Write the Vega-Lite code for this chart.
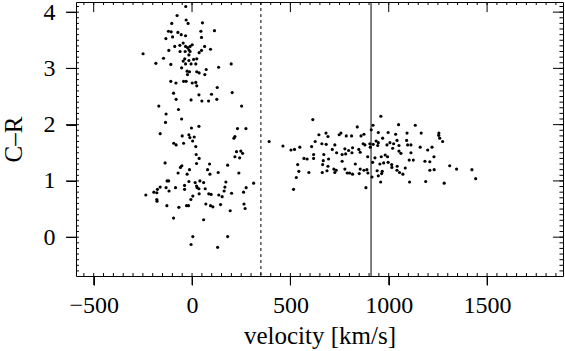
{
"$schema": "https://vega.github.io/schema/vega-lite/v6.json",
"width": 487, "height": 274,
"autosize": {"type": "none"},
"padding": {"left": 76, "top": 2, "right": 2, "bottom": 75},
"config": {
  "font": "Liberation Serif",
  "view": {"stroke": "black", "strokeWidth": 1},
  "axis": {"domain": false, "grid": false, "ticks": true, "labelColor": "black", "titleColor": "black", "labelFont": "Liberation Serif", "titleFont": "Liberation Serif", "labelFontSize": 24, "titleFontSize": 25, "titleFontWeight": "normal", "labelOverlap": false, "labelFlush": false}
},
"datasets": {
  "xmajor": [{"v":-500},{"v":0},{"v":500},{"v":1000},{"v":1500}],
  "xminor": [{"v":-550},{"v":-500},{"v":-450},{"v":-400},{"v":-350},{"v":-300},{"v":-250},{"v":-200},{"v":-150},{"v":-100},{"v":-50},{"v":0},{"v":50},{"v":100},{"v":150},{"v":200},{"v":250},{"v":300},{"v":350},{"v":400},{"v":450},{"v":500},{"v":550},{"v":600},{"v":650},{"v":700},{"v":750},{"v":800},{"v":850},{"v":900},{"v":950},{"v":1000},{"v":1050},{"v":1100},{"v":1150},{"v":1200},{"v":1250},{"v":1300},{"v":1350},{"v":1400},{"v":1450},{"v":1500},{"v":1550},{"v":1600},{"v":1650},{"v":1700},{"v":1750},{"v":1800},{"v":1850}],
  "ymajor": [{"c":0},{"c":1},{"c":2},{"c":3},{"c":4}],
  "yminor": [{"c":-0.6},{"c":-0.5},{"c":-0.4},{"c":-0.3},{"c":-0.2},{"c":-0.1},{"c":0},{"c":0.1},{"c":0.2},{"c":0.3},{"c":0.4},{"c":0.5},{"c":0.6},{"c":0.7},{"c":0.8},{"c":0.9},{"c":1},{"c":1.1},{"c":1.2},{"c":1.3},{"c":1.4},{"c":1.5},{"c":1.6},{"c":1.7},{"c":1.8},{"c":1.9},{"c":2},{"c":2.1},{"c":2.2},{"c":2.3},{"c":2.4},{"c":2.5},{"c":2.6},{"c":2.7},{"c":2.8},{"c":2.9},{"c":3},{"c":3.1},{"c":3.2},{"c":3.3},{"c":3.4},{"c":3.5},{"c":3.6},{"c":3.7},{"c":3.8},{"c":3.9},{"c":4},{"c":4.1}]
},
"layer": [
  {
    "data": {"values": [
{"v":-32,"c":4.10},{"v":-76,"c":3.94},{"v":-30,"c":3.86},{"v":-20,"c":3.80},{"v":-103,"c":3.80},{"v":53,"c":3.81},{"v":114,"c":3.67},{"v":-120,"c":3.66},{"v":-106,"c":3.65},{"v":-72,"c":3.64},{"v":45,"c":3.66},{"v":-55,"c":3.60},{"v":-33,"c":3.58},{"v":-99,"c":3.56},{"v":-133,"c":3.53},{"v":48,"c":3.55},{"v":-45,"c":3.45},{"v":-62,"c":3.41},{"v":-88,"c":3.39},{"v":-33,"c":3.39},{"v":-23,"c":3.37},{"v":1,"c":3.42},{"v":-10,"c":3.39},{"v":-16,"c":3.33},{"v":64,"c":3.39},{"v":94,"c":3.34},{"v":-118,"c":3.32},{"v":-61,"c":3.30},{"v":-35,"c":3.30},{"v":-10,"c":3.30},{"v":48,"c":3.32},{"v":36,"c":3.28},{"v":-249,"c":3.26},{"v":-16,"c":3.24},{"v":-145,"c":3.18},{"v":-37,"c":3.17},{"v":8,"c":3.16},{"v":24,"c":3.17},{"v":-45,"c":3.13},{"v":-16,"c":3.14},{"v":-184,"c":3.09},{"v":-108,"c":3.07},{"v":-5,"c":3.08},{"v":-33,"c":3.08},{"v":19,"c":3.08},{"v":199,"c":3.08},{"v":-53,"c":3.01},{"v":135,"c":3.02},{"v":72,"c":2.98},{"v":-25,"c":2.95},{"v":-13,"c":2.94},{"v":24,"c":2.94},{"v":36,"c":2.92},{"v":-23,"c":2.89},{"v":65,"c":2.89},{"v":-108,"c":2.77},{"v":-82,"c":2.74},{"v":-43,"c":2.77},{"v":-30,"c":2.77},{"v":1,"c":2.74},{"v":19,"c":2.75},{"v":24,"c":2.69},{"v":128,"c":2.66},
{"v":-94,"c":2.56},{"v":204,"c":2.57},{"v":35,"c":2.53},{"v":99,"c":2.54},{"v":-81,"c":2.45},{"v":-5,"c":2.44},{"v":50,"c":2.42},{"v":84,"c":2.42},{"v":126,"c":2.45},{"v":-169,"c":2.33},{"v":252,"c":2.33},{"v":-69,"c":2.27},{"v":-132,"c":2.19},{"v":-53,"c":2.10},{"v":-135,"c":2.04},{"v":35,"c":1.97},{"v":-3,"c":1.94},{"v":231,"c":1.93},{"v":274,"c":1.93},{"v":-162,"c":1.84},{"v":-50,"c":1.80},{"v":-16,"c":1.82},{"v":11,"c":1.78},{"v":-11,"c":1.77},{"v":218,"c":1.79},{"v":213,"c":1.76},{"v":3,"c":1.71},{"v":-93,"c":1.67},{"v":-81,"c":1.64},{"v":-43,"c":1.67},{"v":19,"c":1.61},{"v":226,"c":1.52},{"v":248,"c":1.53},{"v":257,"c":1.49},{"v":21,"c":1.47},{"v":218,"c":1.43},{"v":242,"c":1.41},{"v":36,"c":1.40},{"v":-137,"c":1.32},{"v":23,"c":1.31},{"v":89,"c":1.30},{"v":181,"c":1.28},{"v":-52,"c":1.27},{"v":-59,"c":1.24},{"v":-13,"c":1.20},{"v":79,"c":1.20},{"v":-71,"c":1.14},{"v":-25,"c":1.12},{"v":91,"c":1.12},{"v":133,"c":1.15},{"v":238,"c":1.14},
{"v":-127,"c":1.00},{"v":-119,"c":1.00},{"v":-16,"c":0.99},{"v":16,"c":0.97},{"v":40,"c":1.00},{"v":59,"c":0.97},{"v":172,"c":0.98},{"v":313,"c":0.96},{"v":-38,"c":0.92},{"v":23,"c":0.91},{"v":-162,"c":0.89},{"v":-132,"c":0.88},{"v":-84,"c":0.88},{"v":26,"c":0.88},{"v":167,"c":0.89},{"v":275,"c":0.88},{"v":-176,"c":0.85},{"v":-117,"c":0.82},{"v":-38,"c":0.85},{"v":35,"c":0.86},{"v":67,"c":0.86},{"v":-194,"c":0.80},{"v":-179,"c":0.79},{"v":163,"c":0.82},{"v":262,"c":0.80},{"v":-235,"c":0.75},{"v":36,"c":0.77},{"v":85,"c":0.77},{"v":97,"c":0.76},{"v":136,"c":0.75},{"v":153,"c":0.72},{"v":201,"c":0.78},{"v":4,"c":0.73},{"v":-6,"c":0.67},{"v":-179,"c":0.67},{"v":-178,"c":0.64},{"v":-128,"c":0.56},{"v":-67,"c":0.53},{"v":-28,"c":0.56},{"v":-18,"c":0.56},{"v":70,"c":0.59},{"v":94,"c":0.56},{"v":106,"c":0.54},{"v":145,"c":0.58},{"v":264,"c":0.59},{"v":270,"c":0.51},{"v":194,"c":0.47},{"v":-94,"c":0.34},{"v":59,"c":0.31},{"v":4,"c":0.01},{"v":181,"c":0.01},{"v":-5,"c":-0.13},{"v":130,"c":-0.18},
{"v":614,"c":2.09},{"v":840,"c":1.96},{"v":392,"c":1.70},{"v":462,"c":1.62},{"v":503,"c":1.55},{"v":521,"c":1.56},{"v":548,"c":1.60},{"v":608,"c":1.61},{"v":626,"c":1.70},{"v":645,"c":1.82},{"v":681,"c":1.85},{"v":691,"c":1.79},{"v":660,"c":1.66},{"v":682,"c":1.65},{"v":726,"c":1.64},{"v":713,"c":1.56},{"v":748,"c":1.82},{"v":757,"c":1.85},{"v":784,"c":1.80},{"v":811,"c":1.80},{"v":859,"c":1.80},{"v":874,"c":1.83},{"v":870,"c":1.66},{"v":879,"c":1.64},{"v":777,"c":1.57},{"v":816,"c":1.59},{"v":848,"c":1.56},{"v":855,"c":1.51},{"v":569,"c":1.40},{"v":585,"c":1.39},{"v":618,"c":1.47},{"v":618,"c":1.40},{"v":670,"c":1.47},{"v":667,"c":1.36},{"v":694,"c":1.39},{"v":735,"c":1.50},{"v":763,"c":1.47},{"v":781,"c":1.48},{"v":796,"c":1.54},{"v":813,"c":1.50},{"v":763,"c":1.35},{"v":537,"c":1.29},{"v":664,"c":1.29},{"v":691,"c":1.26},{"v":721,"c":1.21},{"v":830,"c":1.30},{"v":855,"c":1.21},{"v":874,"c":1.19},{"v":543,"c":1.17},{"v":594,"c":1.15},{"v":662,"c":1.15},{"v":686,"c":1.18},{"v":726,"c":1.15},{"v":733,"c":1.19},{"v":777,"c":1.21},{"v":789,"c":1.14},{"v":801,"c":1.14},{"v":816,"c":1.12},{"v":850,"c":1.13},{"v":530,"c":1.06},{"v":516,"c":0.85},{"v":884,"c":0.88},
{"v":960,"c":2.15},{"v":920,"c":1.99},{"v":911,"c":1.91},{"v":1050,"c":2.00},{"v":1135,"c":1.99},{"v":947,"c":1.86},{"v":997,"c":1.86},{"v":1035,"c":1.83},{"v":1093,"c":1.85},{"v":1165,"c":1.85},{"v":1255,"c":1.85},{"v":1254,"c":1.81},{"v":1259,"c":1.76},{"v":1274,"c":1.70},{"v":969,"c":1.76},{"v":936,"c":1.71},{"v":947,"c":1.68},{"v":904,"c":1.66},{"v":906,"c":1.60},{"v":921,"c":1.65},{"v":944,"c":1.63},{"v":991,"c":1.64},{"v":1006,"c":1.68},{"v":1025,"c":1.66},{"v":1042,"c":1.72},{"v":1052,"c":1.63},{"v":1091,"c":1.72},{"v":1096,"c":1.64},{"v":1113,"c":1.64},{"v":1160,"c":1.60},{"v":1220,"c":1.60},{"v":1198,"c":1.55},{"v":1020,"c":1.58},{"v":1052,"c":1.53},{"v":1062,"c":1.49},{"v":1113,"c":1.50},{"v":982,"c":1.46},{"v":994,"c":1.43},{"v":893,"c":1.43},{"v":930,"c":1.41},{"v":962,"c":1.43},{"v":1104,"c":1.37},{"v":1125,"c":1.37},{"v":1230,"c":1.43},{"v":1184,"c":1.35},{"v":1209,"c":1.34},{"v":918,"c":1.33},{"v":955,"c":1.30},{"v":974,"c":1.32},{"v":997,"c":1.33},{"v":1015,"c":1.29},{"v":1016,"c":1.24},{"v":1043,"c":1.26},{"v":1042,"c":1.19},{"v":1055,"c":1.15},{"v":1084,"c":1.23},{"v":1072,"c":1.12},{"v":889,"c":1.20},{"v":894,"c":1.14},{"v":941,"c":1.18},{"v":967,"c":1.17},{"v":964,"c":1.13},{"v":947,"c":1.09},{"v":915,"c":1.07},{"v":1209,"c":1.19},{"v":1231,"c":1.20},{"v":1310,"c":1.27},{"v":1345,"c":1.21},{"v":1423,"c":1.20},{"v":1442,"c":1.04},{"v":1106,"c":0.98},{"v":1188,"c":0.99},{"v":1282,"c":0.96},{"v":959,"c":0.98}
    ]},
    "mark": {"type": "point", "filled": true, "size": 10, "color": "black", "opacity": 1},
    "encoding": {
      "x": {"field": "v", "type": "quantitative", "scale": {"domain": [-590, 1886], "nice": false, "zero": false},
            "axis": {"orient": "bottom", "values": [-500, 0, 500, 1000, 1500], "format": "d", "tickSize": 9, "tickColor": "black", "tickWidth": 1, "labelPadding": 8, "title": "velocity [km/s]", "titlePadding": 6}},
      "y": {"field": "c", "type": "quantitative", "scale": {"domain": [-0.69, 4.18], "nice": false, "zero": false},
            "axis": {"orient": "left", "values": [0, 1, 2, 3, 4], "format": "d", "tickSize": 10, "tickColor": "black", "tickWidth": 1, "labelPadding": 11, "title": "C–R", "titlePadding": 17}}
    }
  },
  {
    "data": {"name": "xmajor"},
    "mark": {"type": "rule", "color": "black", "strokeWidth": 1, "clip": false},
    "encoding": {
      "x": {"field": "v", "type": "quantitative"},
      "y": {"datum": -0.69, "type": "quantitative"},
      "y2": {"datum": -0.85}
    }
  },
  {
    "data": {"name": "xmajor"},
    "mark": {"type": "rule", "color": "black", "strokeWidth": 1, "clip": false},
    "encoding": {
      "x": {"field": "v", "type": "quantitative"},
      "y": {"datum": 4.18, "type": "quantitative"},
      "y2": {"datum": 4.0}
    }
  },
  {
    "data": {"name": "xminor"},
    "mark": {"type": "rule", "color": "black", "strokeWidth": 1, "clip": false},
    "encoding": {
      "x": {"field": "v", "type": "quantitative"},
      "y": {"datum": -0.69, "type": "quantitative"},
      "y2": {"datum": -0.637}
    }
  },
  {
    "data": {"name": "xminor"},
    "mark": {"type": "rule", "color": "black", "strokeWidth": 1, "clip": false},
    "encoding": {
      "x": {"field": "v", "type": "quantitative"},
      "y": {"datum": 4.18, "type": "quantitative"},
      "y2": {"datum": 4.127}
    }
  },
  {
    "data": {"name": "ymajor"},
    "mark": {"type": "rule", "color": "black", "strokeWidth": 1, "clip": false},
    "encoding": {
      "y": {"field": "c", "type": "quantitative"},
      "x": {"datum": -590, "type": "quantitative"},
      "x2": {"datum": -641}
    }
  },
  {
    "data": {"name": "ymajor"},
    "mark": {"type": "rule", "color": "black", "strokeWidth": 1, "clip": false},
    "encoding": {
      "y": {"field": "c", "type": "quantitative"},
      "x": {"datum": 1886, "type": "quantitative"},
      "x2": {"datum": 1835}
    }
  },
  {
    "data": {"name": "yminor"},
    "mark": {"type": "rule", "color": "black", "strokeWidth": 1, "clip": false},
    "encoding": {
      "y": {"field": "c", "type": "quantitative"},
      "x": {"datum": -590, "type": "quantitative"},
      "x2": {"datum": -575}
    }
  },
  {
    "data": {"name": "yminor"},
    "mark": {"type": "rule", "color": "black", "strokeWidth": 1, "clip": false},
    "encoding": {
      "y": {"field": "c", "type": "quantitative"},
      "x": {"datum": 1886, "type": "quantitative"},
      "x2": {"datum": 1868}
    }
  },
  {
    "data": {"values": [{"v": 350}]},
    "mark": {"type": "rule", "color": "black", "strokeWidth": 1, "strokeDash": [3, 3]},
    "encoding": {"x": {"field": "v", "type": "quantitative"}}
  },
  {
    "data": {"values": [{"v": 910}]},
    "mark": {"type": "rule", "color": "black", "strokeWidth": 1},
    "encoding": {"x": {"field": "v", "type": "quantitative"}}
  }
]
}
